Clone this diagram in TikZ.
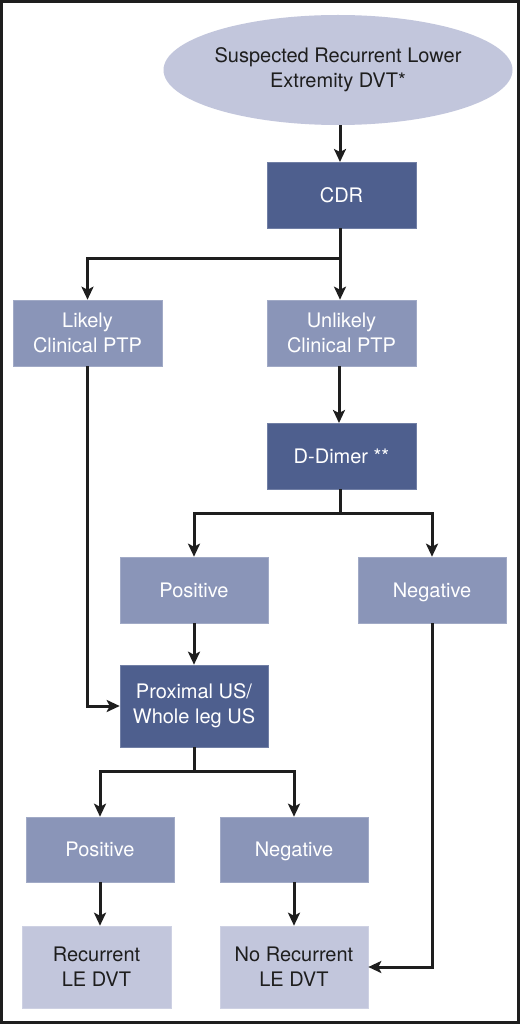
\documentclass[tikz,border=0pt]{standalone}
\usepackage{fontspec}
\setmainfont{TeX Gyre Heros}
\usetikzlibrary{arrows.meta,positioning,shapes.geometric}
\definecolor{darkbox}{HTML}{4E5F8E}
\definecolor{midbox}{HTML}{8A95B8}
\definecolor{lightbox}{HTML}{C2C6DC}
\definecolor{ink}{HTML}{1E1E1E}
\tikzset{
  base/.style={inner sep=0pt, align=center, font=\fontsize{20}{25}\selectfont, draw=#1!80!white, line width=0.6pt},
  oneline/.style={text height=17pt, text depth=2.6pt},
  darkn/.style={base=darkbox, fill=darkbox, text=white},
  midn/.style={base=midbox, fill=midbox, text=white},
  lightn/.style={base=lightbox, fill=lightbox, text=ink},
  conn/.style={draw=ink, line width=3pt, -{Stealth[length=13pt,width=12pt,inset=3pt]}},
  plain/.style={draw=ink, line width=3pt},
}
\begin{document}
\begin{tikzpicture}[x=1pt,y=-1pt]
\useasboundingbox (0,0) rectangle (520,1024);
\fill[white] (0,0) rectangle (520,1024);
\draw[ink, line width=3pt] (1.5,1.5) rectangle (518.5,1022.5);

\node[ellipse, fill=lightbox, text=ink, inner sep=0pt, align=center, font=\fontsize{20}{25}\selectfont, minimum width=310pt, minimum height=110pt] (ell) at (338,70) {Suspected Recurrent Lower\\Extremity DVT*};
\node[darkn, oneline, minimum width=149pt, minimum height=66pt] (cdr) at (341.5,195) {CDR};
\node[midn, minimum width=149pt, minimum height=66pt] (likely) at (87.5,333) {Likely\\Clinical PTP};
\node[midn, minimum width=149pt, minimum height=66pt] (unlikely) at (341.5,333) {Unlikely\\Clinical PTP};
\node[darkn, oneline, minimum width=149pt, minimum height=66pt] (dd) at (341.5,456) {D-Dimer **};
\node[midn, oneline, minimum width=148pt, minimum height=66pt] (pos1) at (194,590) {Positive};
\node[midn, oneline, minimum width=148pt, minimum height=66pt] (neg1) at (432,590) {Negative};
\node[darkn, minimum width=148pt, minimum height=82pt] (prox) at (194,706) {Proximal US/\\Whole leg US};
\node[midn, oneline, minimum width=148pt, minimum height=65pt] (pos2) at (100,849.5) {Positive};
\node[midn, oneline, minimum width=148pt, minimum height=65pt] (neg2) at (294,849.5) {Negative};
\node[lightn, minimum width=149pt, minimum height=82pt] (rec) at (96.5,967) {Recurrent\\LE DVT};
\node[lightn, minimum width=148pt, minimum height=82pt] (norec) at (294,967) {No Recurrent\\LE DVT};

\coordinate (b1) at (340,258);
\coordinate (b2) at (340,513);
\coordinate (b3) at (194,771);

\draw[conn] (ell.south -| 340,0) -- (340,162);
\draw[plain] (cdr.south -| b1) -- (b1);
\draw[conn] (b1) -| (likely.north);
\draw[conn] (b1) -- (b1 |- unlikely.north);
\draw[conn] (unlikely.south -| 339,0) -- (339,423);
\draw[plain] (dd.south -| b2) -- (b2);
\draw[conn] (b2) -| (pos1.north);
\draw[conn] (b2) -| (neg1.north);
\draw[conn] (pos1.south) -- (prox.north);
\draw[conn] (likely.south) |- (prox.west);
\draw[plain] (prox.south) -- (b3);
\draw[conn] (b3) -| (pos2.north);
\draw[conn] (b3) -| (neg2.north);
\draw[conn] (pos2.south) -- (pos2.south |- rec.north);
\draw[conn] (neg2.south) -- (norec.north);
\draw[conn] (neg1.south) |- (norec.east);
\end{tikzpicture}
\end{document}
